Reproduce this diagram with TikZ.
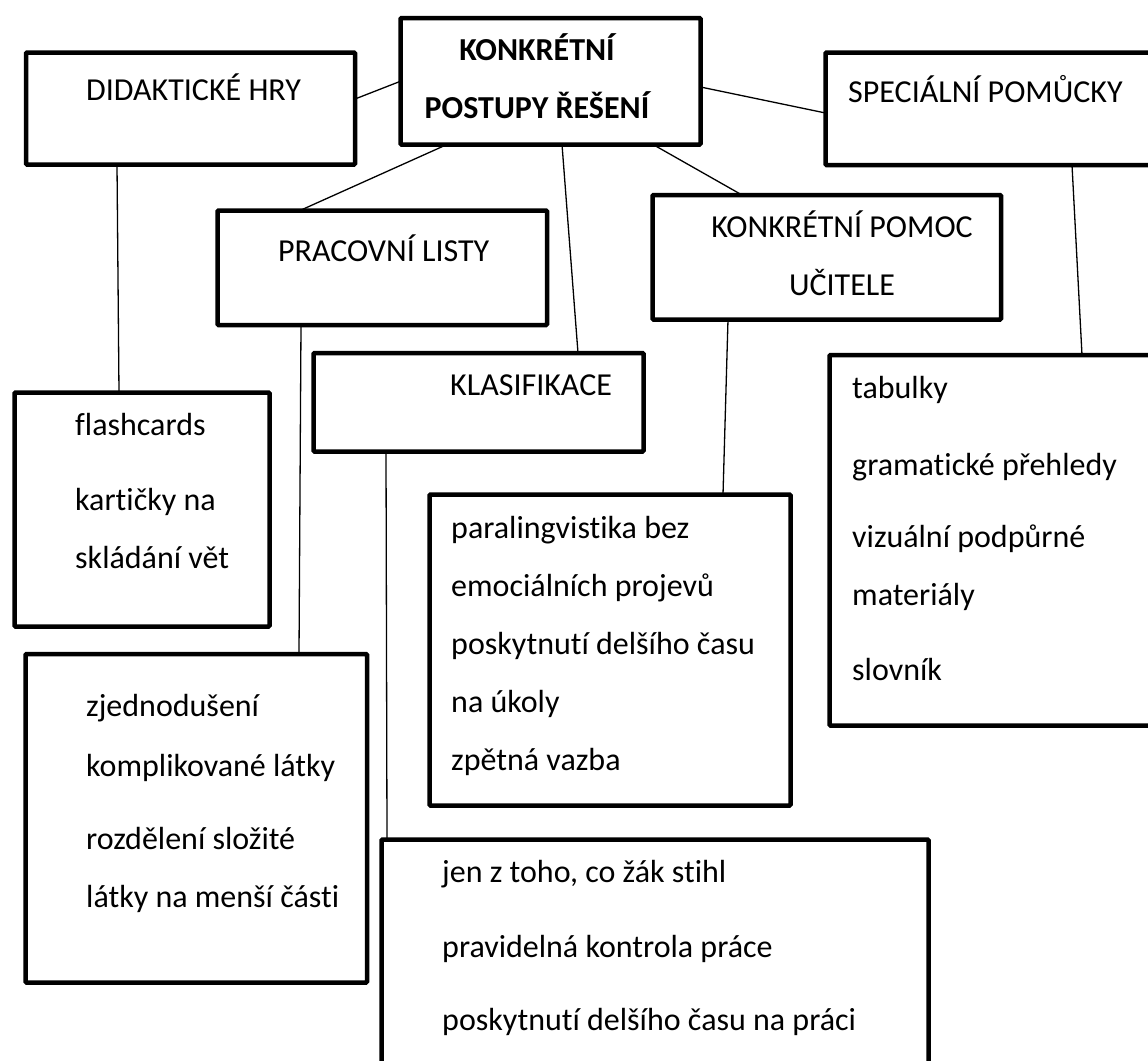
\documentclass[tikz,border=0pt]{standalone}
\usepackage{fontspec}
\setmainfont[Ligatures=NoCommon]{Carlito}
\usetikzlibrary{calc}
\begin{document}
\begin{tikzpicture}[
  x=1pt, y=1pt,
  box/.style={draw, line width=4.5pt, rounded corners=1pt, anchor=north west, inner sep=0pt, outer sep=0pt},
  txt/.style={font=\fontsize{32}{58}\selectfont, inner sep=0pt, align=left, anchor=base west},
  mtxt/.style={txt, align=center, anchor=base},
  link/.style={line width=1.3pt}
]
\useasboundingbox (0,0) rectangle (1148,-1060);
\clip (0,0) rectangle (1148,-1060);
\node[box, minimum width=329pt, minimum height=112pt] (hry) at (26,-52.5) {};
\node[box, minimum width=300pt, minimum height=126.5pt] (main) at (400.5,-18) {};
\node[box, minimum width=334.5pt, minimum height=112.5pt] (spec) at (825.5,-52.5) {};
\node[box, minimum width=329.5pt, minimum height=114.5pt] (prac) at (217.5,-210.5) {};
\node[box, minimum width=348.5pt, minimum height=124.5pt] (pomoc) at (652.5,-195) {};
\node[box, minimum width=330pt, minimum height=98.5pt] (klas) at (313.5,-353) {};
\node[box, minimum width=255pt, minimum height=234pt] (flash) at (14.5,-392.5) {};
\node[box, minimum width=341.5pt, minimum height=328.5pt] (zjed) at (25.5,-654) {};
\node[box, minimum width=361pt, minimum height=311pt] (para) at (429.5,-494.5) {};
\node[box, minimum width=330.5pt, minimum height=370.5pt] (tab) at (829.5,-355) {};
\node[box, minimum width=547pt, minimum height=240.5pt] (jen) at (381.5,-839.5) {};
\node[txt] (hrytxt) at (86,-100) {DIDAKTICKÉ HRY};
\node[mtxt, font=\fontsize{32}{58}\selectfont\bfseries] (maintxt) at (537,-118) {KONKRÉTNÍ\\POSTUPY ŘEŠENÍ};
\node[txt] (spectxt) at (848,-102) {SPECIÁLNÍ POMŮCKY};
\node[txt] (practxt) at (278,-261) {PRACOVNÍ LISTY};
\node[mtxt] (pomoctxt) at (842,-295) {KONKRÉTNÍ POMOC\\UČITELE};
\node[txt] (klastxt) at (450,-395) {KLASIFIKACE};
\node[txt] (flashtxt) at (75,-568) {flashcards\\[17pt]kartičky na\\skládání vět};
\node[txt] (zjedtxt) at (86,-907) {zjednodušení\\[2pt]komplikované látky\\[15pt]rozdělení složité\\látky na menší části};
\node[txt] (paratxt) at (451,-770) {paralingvistika bez\\emociálních projevů\\poskytnutí delšího času\\na úkoly\\zpětná vazba};
\node[txt] (tabtxt) at (852,-680) {tabulky\\[19pt]gramatické přehledy\\[14pt]vizuální podpůrné\\materiály\\[17pt]slovník};
\node[txt] (jentxt) at (442,-1030) {jen z toho, co žák stihl\\[17pt]pravidelná kontrola práce\\[15pt]poskytnutí delšího času na práci};
\draw[link] ($(hry.north east)+(0,-46.5)$) -- (main.west);
\draw[link] ($(main.north east)+(0,-69)$) -- ($(spec.north west)+(0,-60.5)$);
\draw[link] ($(main.south west)+(46.5,0)$) -- ($(prac.north west)+(82.5,0)$);
\draw[link] ($(main.south west)+(161.5,0)$) -- ($(klas.north west)+(264.5,0)$);
\draw[link] ($(main.south west)+(252.5,0)$) -- ($(pomoc.north west)+(89.5,0)$);
\draw[link] ($(hry.south west)+(91,0)$) -- ($(flash.north west)+(104.5,0)$);
\draw[link] ($(prac.south west)+(83.5,0)$) -- ($(zjed.north west)+(273.5,0)$);
\draw[link] ($(klas.south west)+(72.5,0)$) -- ($(jen.north west)+(5.5,0)$);
\draw[link] ($(pomoc.south west)+(75.5,0)$) -- ($(para.north west)+(293.5,0)$);
\draw[link] ($(spec.south west)+(246.5,0)$) -- ($(tab.north west)+(252.5,0)$);
\end{tikzpicture}
\end{document}
